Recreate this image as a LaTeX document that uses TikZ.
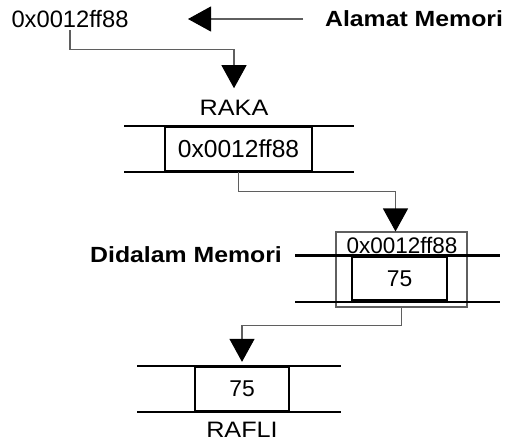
\documentclass[tikz,border=0pt]{standalone}
\usepackage{fontspec}
\setmainfont{Liberation Sans}
\newfontfamily\labelfont[FakeStretch=1.13]{Liberation Sans}
\definecolor{linegray}{RGB}{95, 95, 95}
\usetikzlibrary{arrows.meta, positioning}
\tikzset{
	rail/.style={line width=1.3pt, draw=black, line cap=rect},
	cell/.style={rectangle, draw=black, line width=1.3pt, inner sep=0pt, minimum height=0.88cm, font=\fontsize{13}{15}\selectfont},
	addrtext/.style={font=\fontsize{13.5}{16}\selectfont, inner sep=1pt},
	nametext/.style={font=\labelfont\fontsize{12.7}{15}\selectfont, inner sep=1pt},
	tagtext/.style={font=\labelfont\bfseries\fontsize{12.5}{15}\selectfont, inner sep=1pt},
	pointer/.style={-{Triangle[length=0.46cm, width=0.5cm, color=black]}, line width=0.6pt, draw=linegray},
	frame/.style={rectangle, draw=linegray, line width=0.6pt, inner sep=0pt},
}
\begin{document}
\begin{tikzpicture}[x=0.02cm, y=-0.02cm]
		\useasboundingbox (0,0) rectangle (506,440);
		\node[addrtext] (addr) at (70,19) {0x0012ff88};
		\node[tagtext, anchor=west] (alamat) at (323,19) {Alamat Memori};
		\coordinate (alamattip) at (188,19);
		\draw[pointer] ([xshift=-0.4cm]alamat.west) -- (alamattip);
		\node[nametext] (raka) at (234,108) {RAKA};
		\draw[pointer, shorten >=0.2cm] (addr.south) -- ++(0,20) -| (raka.north);
		\node[cell, minimum width=2.94cm, font=\fontsize{14}{16}\selectfont] (rakacell) at (238.5,149) {0x0012ff88};
		\draw[rail] ([xshift=-0.78cm]rakacell.north west) -- ([xshift=0.8cm]rakacell.north east);
		\draw[rail] ([xshift=-0.78cm]rakacell.south west) -- ([xshift=0.8cm]rakacell.south east);
		\node[frame, minimum width=2.62cm, minimum height=1.5cm] (outer) at (401.5,269.5) {};
		\node[addrtext, font=\fontsize{12.8}{15}\selectfont] (inaddr) at (402,245) {0x0012ff88};
		\node[cell, minimum width=1.9cm] (dicell) at (399.5,278.5) {75};
		\draw[rail] ([xshift=-1.1cm]dicell.north west) -- ([xshift=1.02cm]dicell.north east);
		\draw[rail] ([xshift=-1.1cm]dicell.south west) -- ([xshift=1.02cm]dicell.south east);
		\node[tagtext, anchor=east] (didalam) at (284,255) {Didalam Memori};
		\draw[pointer] (rakacell.south) -- ++(0,19) -| ([xshift=-0.12cm]outer.north);
		\node[cell, minimum width=1.88cm] (raflicell) at (242,389) {75};
		\draw[rail] ([xshift=-1.12cm]raflicell.north west) -- ([xshift=1.0cm]raflicell.north east);
		\draw[rail] ([xshift=-1.12cm]raflicell.south west) -- ([xshift=1.0cm]raflicell.south east);
		\node[nametext] (rafli) at (242,430) {RAFLI};
		\draw[pointer, shorten >=0.08cm] (outer.south) -- ++(0,18) -| (raflicell.north);
	\end{tikzpicture}
\end{document}
